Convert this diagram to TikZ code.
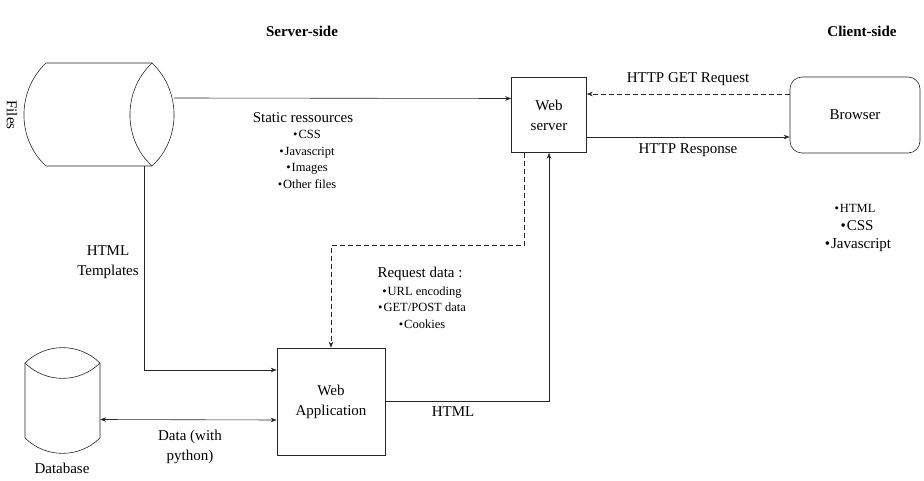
\documentclass[tikz,border=0pt]{standalone}
\usepackage{fontspec}
\setmainfont{Liberation Serif}
\usetikzlibrary{arrows.meta}
\tikzset{
  line/.style={draw=black!85, line width=0.6pt},
  arr/.style={line, -{Stealth[length=6pt,width=4.5pt]}},
  dasharr/.style={arr, dash pattern=on 5pt off 3pt},
  box/.style={line, align=center, inner sep=0pt, font=\fontsize{15}{20}\selectfont},
  ghost/.style={inner sep=0pt},
  txt/.style={align=center, font=\fontsize{15}{19}\selectfont},
  small/.style={align=center, font=\fontsize{12.5}{16.5}\selectfont},
}
\newcommand{\bul}{\textbullet\kern1pt}

\begin{document}
\begin{tikzpicture}[x=1pt,y=-1pt]
			%%%%% START %%%%%
			\useasboundingbox (0,0) rectangle (924,481);
			
			\node[txt, font=\fontsize{15}{19}\selectfont\bfseries] (server) at (302,31) {Server-side};
			\node[txt, font=\fontsize{15}{19}\selectfont\bfseries] (client) at (862,31) {Client-side};
			
			% files store
			\node[ghost, minimum width=149pt, minimum height=103pt] (files) at (99.5,114.5) {};
			\draw[line] (46,63) -- (152,63) .. controls (181.4,90.9) and (181.4,139.1) .. (152,166) -- (46,166) .. controls (16.6,139.1) and (16.6,90.9) .. (46,63);
			\draw[line] (152,63) .. controls (122.6,90.9) and (122.6,139.1) .. (152,166);
			\node[txt, rotate=-90] (fileslbl) at (12,115) {Files};
			
			% database
			\node[ghost, minimum width=75pt, minimum height=106pt] (db) at (62.5,401) {};
			\draw[line] (25,363) .. controls (45.8,342.5) and (79.2,342.5) .. (100,363) -- (100,438) .. controls (79.2,458.5) and (45.8,458.5) .. (25,438) -- cycle;
			\draw[line] (25,363) .. controls (45.8,383.5) and (79.2,383.5) .. (100,363);
			\node[txt] (dblbl) at (62,468) {Database};
			
			\node[box, minimum width=75pt, minimum height=75pt] (ws) at (549,115) {Web\\server};
			\node[box, minimum width=130pt, minimum height=76pt, rounded corners=12pt] (br) at (855,115) {Browser};
			\node[box, minimum width=108pt, minimum height=107pt] (app) at (331,401.5) {Web\\Application};
			
			\draw[arr] ([yshift=16.5pt]files.east) -- ([yshift=16.5pt]ws.west);
			\draw[dasharr] ([yshift=21pt]br.west) -- ([yshift=21pt]ws.east);
			\draw[arr] ([yshift=-22pt]ws.east) -- ([yshift=-22pt]br.west);
			\draw[arr] ([xshift=44.5pt]files.south) |- ([yshift=31.5pt]app.west);
			\draw[dasharr] ([xshift=-25pt]ws.south) -- ++(0,92.5) -| (app.north);
			\draw[arr] (app.east) -| (ws.south);
			\draw[arr, {Stealth[length=6pt,width=4.5pt]}-{Stealth[length=6pt,width=4.5pt]}] ([yshift=-18.5pt]db.east) -- ([yshift=-18.5pt]app.west);
			
			\node[txt] (getlbl) at (688,79) {HTTP GET Request};
			\node[txt] (resplbl) at (688,150) {HTTP Response};
			\node[txt] (htmllbl) at (453,412) {HTML};
			\node[txt, font=\fontsize{15}{20}\selectfont] (tpllbl) at (108,262) {HTML\\Templates};
			\node[txt, font=\fontsize{15}{20}\selectfont] (datalbl) at (190,447) {Data (with\\python)};
			
			\node[txt] (statlbl) at (303,118) {Static ressources};
			\node[small, anchor=north] (statlist) at (307,127) {\bul CSS\\\bul Javascript\\\bul Images\\\bul Other files};
			
			\node[txt] (reqlbl) at (420,274) {Request data :};
			\node[small, anchor=north] (reqlist) at (422,283) {\bul URL encoding\\\bul GET/POST data\\\bul Cookies};
			
			\node[small] (cl1) at (855,208) {\bul HTML};
			\node[txt] (cl2) at (857,226) {\bul CSS};
			\node[txt] (cl3) at (858,245) {\bul Javascript};
			
			%%%%% END %%%%%
\end{tikzpicture}
\end{document}
